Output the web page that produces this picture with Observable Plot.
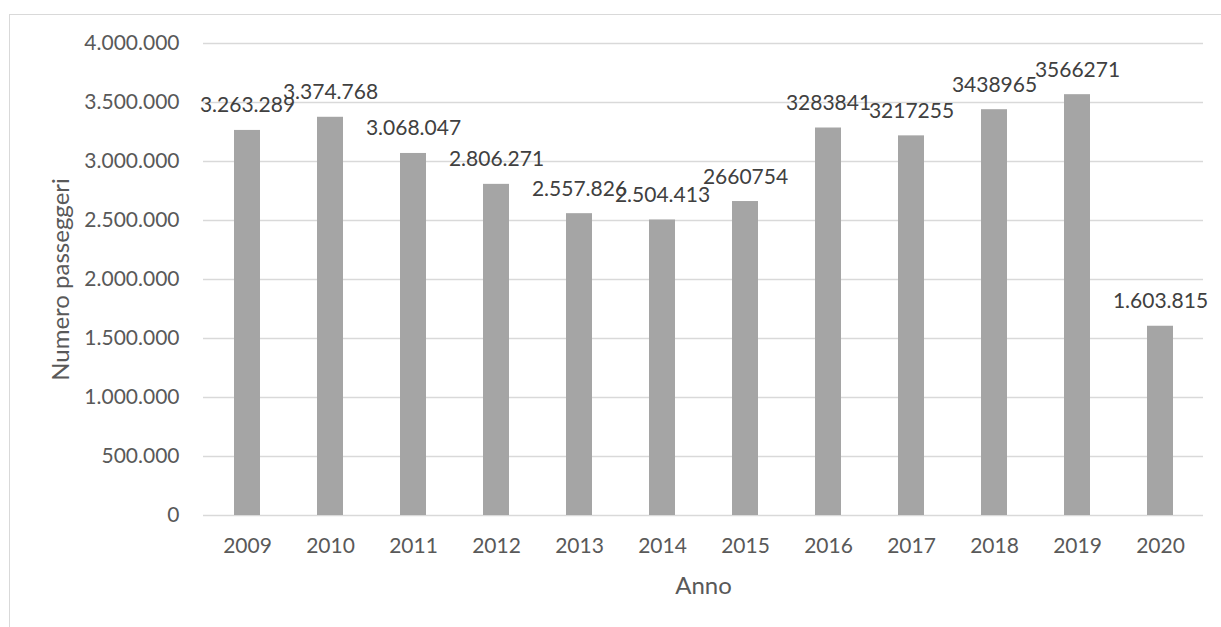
<!DOCTYPE html>
<html>
<head>
<meta charset="utf-8">
<script src="https://cdn.jsdelivr.net/npm/d3@7"></script>
<script src="https://cdn.jsdelivr.net/npm/@observablehq/plot@0.6"></script>
<style>
  html, body { margin: 0; padding: 0; background: #ffffff; }
  #wrap { position: relative; width: 1221px; height: 627px; overflow: hidden; }
  #border { position: absolute; left: 8.5px; top: 13.5px; width: 1300px; height: 700px;
            border-left: 1.6px solid #d9d9d9; border-top: 1.6px solid #d9d9d9; box-sizing: border-box; }
  #chart { position: absolute; left: 0; top: 0; }
</style>
</head>
<body>
<div id="wrap"><div id="border"></div><div id="chart"></div></div>
<script>
const years = ["2009","2010","2011","2012","2013","2014","2015","2016","2017","2018","2019","2020"];
const passengers = [3263289, 3374768, 3068047, 2806271, 2557826, 2504413, 2660754, 3283841, 3217255, 3438965, 3566271, 1603815];
const valueLabels = ["3.263.289","3.374.768","3.068.047","2.806.271","2.557.826","2.504.413","2660754","3283841","3217255","3438965","3566271","1.603.815"];
const yTicks = [0, 500000, 1000000, 1500000, 2000000, 2500000, 3000000, 3500000, 4000000];
const yTickLabels = ["0","500.000","1.000.000","1.500.000","2.000.000","2.500.000","3.000.000","3.500.000","4.000.000"];
const xTitle = "Anno";
const yTitle = "Numero passeggeri";

const data = years.map((y, i) => ({year: y, value: passengers[i], label: valueLabels[i]}));

const chart = Plot.plot({
  width: 1221,
  height: 627,
  marginTop: 43,
  marginBottom: 112,
  marginLeft: 203,
  marginRight: 18,
  style: {fontFamily: "Lato, 'Open Sans', sans-serif", fontSize: "21px", background: "transparent"},
  x: {domain: years, paddingInner: 0.688, paddingOuter: 0.344, label: null},
  y: {domain: [0, 4000000], label: null},
  marks: [
    Plot.gridY(yTicks, {stroke: "#d9d9d9", strokeOpacity: 1, strokeWidth: 1.4}),
    Plot.barY(data, {x: "year", y: "value", fill: "#a5a5a5"}),
    Plot.axisY(yTicks, {tickSize: 0, tickPadding: 24, tickFormat: (d) => yTickLabels[yTicks.indexOf(d)], fill: "#595959", fontSize: 21, label: null}),
    Plot.axisX({tickSize: 0, tickPadding: 23, fill: "#595959", fontSize: 21, label: null}),
    Plot.text(data, {x: "year", y: "value", text: "label", dy: -18, lineAnchor: "bottom", fill: "#404040", fontSize: 21}),
    Plot.text([xTitle], {frameAnchor: "bottom", dy: 78, lineAnchor: "bottom", fill: "#595959", fontSize: 24}),
    Plot.text([yTitle], {frameAnchor: "left", dx: -135, rotate: -90, textAnchor: "middle", lineAnchor: "bottom", fill: "#595959", fontSize: 24})
  ]
});
document.getElementById("chart").appendChild(chart);
</script>
</body>
</html>
